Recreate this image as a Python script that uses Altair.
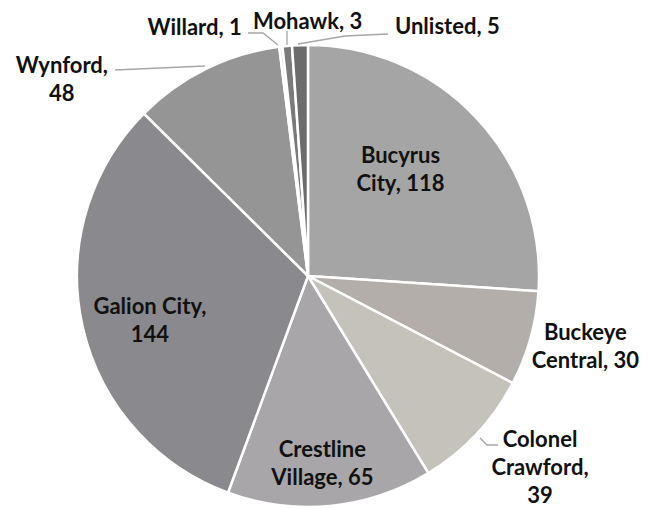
import altair as alt
import pandas as pd

districts = ["Bucyrus City", "Buckeye Central", "Colonel Crawford", "Crestline Village",
             "Galion City", "Wynford", "Willard", "Mohawk", "Unlisted"]
counts = [118, 30, 39, 65, 144, 48, 1, 3, 5]
label_lines = [["Bucyrus", "City, 118"], ["Buckeye", "Central, 30"],
               ["Colonel", "Crawford,", "39"], ["Crestline", "Village, 65"],
               ["Galion City,", "144"], ["Wynford,", "48"], ["Willard, 1"],
               ["Mohawk, 3"], ["Unlisted, 5"]]
colors = ["#A5A5A5", "#B3AEA9", "#C4C2BA", "#A8A6A9", "#8A898D", "#959595",
          "#D2D2D2", "#7A7A7A", "#6C6C6C"]

LH = 28
# label layout (radius, dx, dy) per slice; dy is for the block centre
layout = {
    "Bucyrus City": (139, -9, -11),
    "Buckeye Central": (286, 2, -6),
    "Colonel Crawford": (300, 13, -13),
    "Crestline Village": (190, -4, -1),
    "Galion City": (165, 3, 9),
    "Wynford": (220, -149, 1),
    "Willard": (250, -84, 0),
    "Mohawk": (260, 23, 5),
    "Unlisted": (250, 148, 1),
}
nlines = dict(zip(districts, [len(l) for l in label_lines]))

# leader lines (pixel layout, annotation only)
leaders = [
    ("Wynford", [(107, 62), (197, 58)]),
    ("Willard", [(240, 25), (255, 25), (270, 37)]),
    ("Mohawk", [(279, 23), (279, 37)]),
    ("Unlisted", [(290, 36), (337, 28), (380, 26)]),
    ("Colonel", [(472, 430), (479, 437), (490, 437)]),
]

df = pd.DataFrame({"district": districts, "count": counts,
                   "order": list(range(len(districts))),
                   "label": label_lines})

CX, CY, R = 300, 268, 231

base = alt.Chart(df).encode(
    theta=alt.Theta("count:Q", stack=True),
    order=alt.Order("order:Q"),
    x=alt.value(CX), y=alt.value(CY),
)

pie = base.mark_arc(outerRadius=R, stroke="white", strokeWidth=2.5).encode(
    color=alt.Color("district:N", scale=alt.Scale(domain=districts, range=colors), legend=None)
)

layers = [pie]
for name, (r, dx, dy) in layout.items():
    shift = -(nlines[name] - 1) * LH / 2
    layers.append(
        base.transform_calculate(keep=f"datum.district == '{name}'")
        .mark_text(radius=r, dx=dx, dy=dy + shift, font="Lato", fontWeight="bold", fontSize=22,
                   lineHeight=LH, align="center", baseline="middle", color="#111111")
        .encode(text="label", opacity=alt.condition("datum.keep", alt.value(1), alt.value(0)))
    )

rows = []
for nm, pts in leaders:
    for i, (px, py) in enumerate(pts):
        rows.append({"leader": nm, "i": i, "px": px, "py": py})
ldf = pd.DataFrame(rows)
lines = alt.Chart(ldf).mark_line(color="#A6A6A6", strokeWidth=1.3).encode(
    x=alt.X("px:Q", scale=None), y=alt.Y("py:Q", scale=None),
    detail="leader:N", order="i:Q")

border = alt.Chart(pd.DataFrame({"v": [0]})).mark_rule(color="#D9D9D9", strokeWidth=2).encode(
    x=alt.value(639), y=alt.value(0), y2=alt.value(500))

chart = alt.layer(*layers, lines, border).properties(
    width=638, height=500, autosize=alt.AutoSizeParams(type="none"), padding=0
).configure_view(stroke=None)

chart.save("out.html", embed_options={"renderer": "svg", "actions": False})
